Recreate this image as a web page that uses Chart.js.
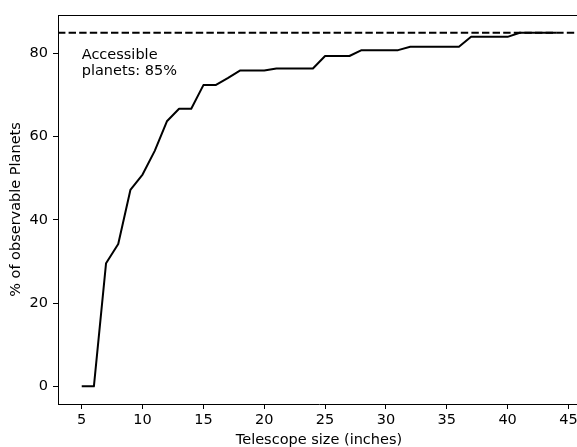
<!DOCTYPE html>
<html>
<head>
<meta charset="utf-8">
<script src="https://cdn.jsdelivr.net/npm/chart.js@4"></script>
<style>
  html, body { margin: 0; padding: 0; background: #fff; overflow: hidden; }
  #wrap { width: 584px; height: 450px; }
</style>
</head>
<body>
<div id="wrap"><canvas id="chart" width="584" height="450"></canvas></div>
<script>
// telescope size (inches) and % of planets observable
const telescopeSizes = [
  5, 6, 7, 8, 9, 10, 11, 12, 13, 14,
  15, 16, 17, 18, 19, 20, 21, 22, 23, 24,
  25, 26, 27, 28, 29, 30, 31, 32, 33, 34,
  35, 36, 37, 38, 39, 40, 41, 42, 43, 44
];
const observablePct = [
  0, 0, 29.6, 34.2, 47.2, 50.9, 56.6, 63.7, 66.7, 66.7,
  72.4, 72.4, 74.1, 75.9, 75.9, 75.9, 76.4, 76.4, 76.4, 76.4,
  79.4, 79.4, 79.4, 80.8, 80.8, 80.8, 80.8, 81.6, 81.6, 81.6,
  81.6, 81.6, 84.0, 84.0, 84.0, 84.0, 85, 85, 85, 85
];
const accessiblePct = 85;
const xTicks = [5, 10, 15, 20, 25, 30, 35, 40, 45];
const yTicks = [0, 20, 40, 60, 80];
const annotationLines = ["Accessible", "planets: 85%"];

const X_MIN = 3.05, X_MAX = 45.95;
const Y_MIN = -4.25, Y_MAX = 89.25;
const FONT = "'DejaVu Sans', sans-serif";
const FS = 14.5;

// top spine + text label
const extras = {
  id: "extras",
  afterDraw(chart) {
    const { ctx, chartArea, scales } = chart;
    ctx.save();
    ctx.beginPath();
    ctx.strokeStyle = "#000";
    ctx.lineWidth = 1;
    ctx.moveTo(chartArea.left, chartArea.top + 0.5);
    ctx.lineTo(chartArea.right, chartArea.top + 0.5);
    ctx.stroke();
    ctx.beginPath();

    ctx.fillStyle = "#000";
    ctx.font = FS + "px " + FONT;
    ctx.textAlign = "left";
    ctx.textBaseline = "alphabetic";
    const x = scales.x.getPixelForValue(5);
    const y = scales.y.getPixelForValue(78.6);
    annotationLines.forEach((t, i) => ctx.fillText(t, x, y + i * 16));
    ctx.restore();
  }
};

new Chart(document.getElementById("chart"), {
  type: "line",
  data: {
    datasets: [
      {
        data: telescopeSizes.map((s, i) => ({ x: s, y: observablePct[i] })),
        borderColor: "#000",
        borderWidth: 2,
        pointRadius: 0,
        tension: 0,
        borderJoinStyle: "round",
        clip: false
      },
      {
        data: [{ x: X_MIN, y: accessiblePct }, { x: X_MAX, y: accessiblePct }],
        borderColor: "#000",
        borderWidth: 2,
        borderDash: [7.4, 3.2],
        pointRadius: 0,
        clip: false
      }
    ]
  },
  options: {
    responsive: false,
    animation: false,
    layout: { padding: { top: 15, right: 4, left: 0, bottom: 0 } },
    plugins: { legend: { display: false }, tooltip: { enabled: false } },
    scales: {
      x: {
        type: "linear",
        min: X_MIN,
        max: X_MAX,
        afterFit: s => { s.height = 46; },
        afterBuildTicks: s => { s.ticks = xTicks.map(v => ({ value: v })); },
        ticks: { font: { family: FONT, size: FS }, color: "#000", padding: 3, maxRotation: 0 },
        grid: { drawOnChartArea: false, drawTicks: true, tickLength: 5, tickColor: "#000", tickWidth: 1 },
        border: { display: true, color: "#000", width: 1 },
        title: { display: true, text: "Telescope size (inches)", font: { family: FONT, size: FS }, color: "#000", padding: { top: 0, bottom: 1.3 } }
      },
      y: {
        min: Y_MIN,
        max: Y_MAX,
        afterFit: s => { s.width = 58; },
        afterBuildTicks: s => { s.ticks = yTicks.map(v => ({ value: v })); },
        ticks: { font: { family: FONT, size: FS }, color: "#000", padding: 5 },
        grid: { drawOnChartArea: false, drawTicks: true, tickLength: 5, tickColor: "#000", tickWidth: 1 },
        border: { display: true, color: "#000", width: 1 },
        title: { display: true, text: "% of observable Planets", font: { family: FONT, size: FS }, color: "#000", padding: { top: 7.3, bottom: 0 } }
      }
    }
  },
  plugins: [extras]
});
</script>
</body>
</html>
